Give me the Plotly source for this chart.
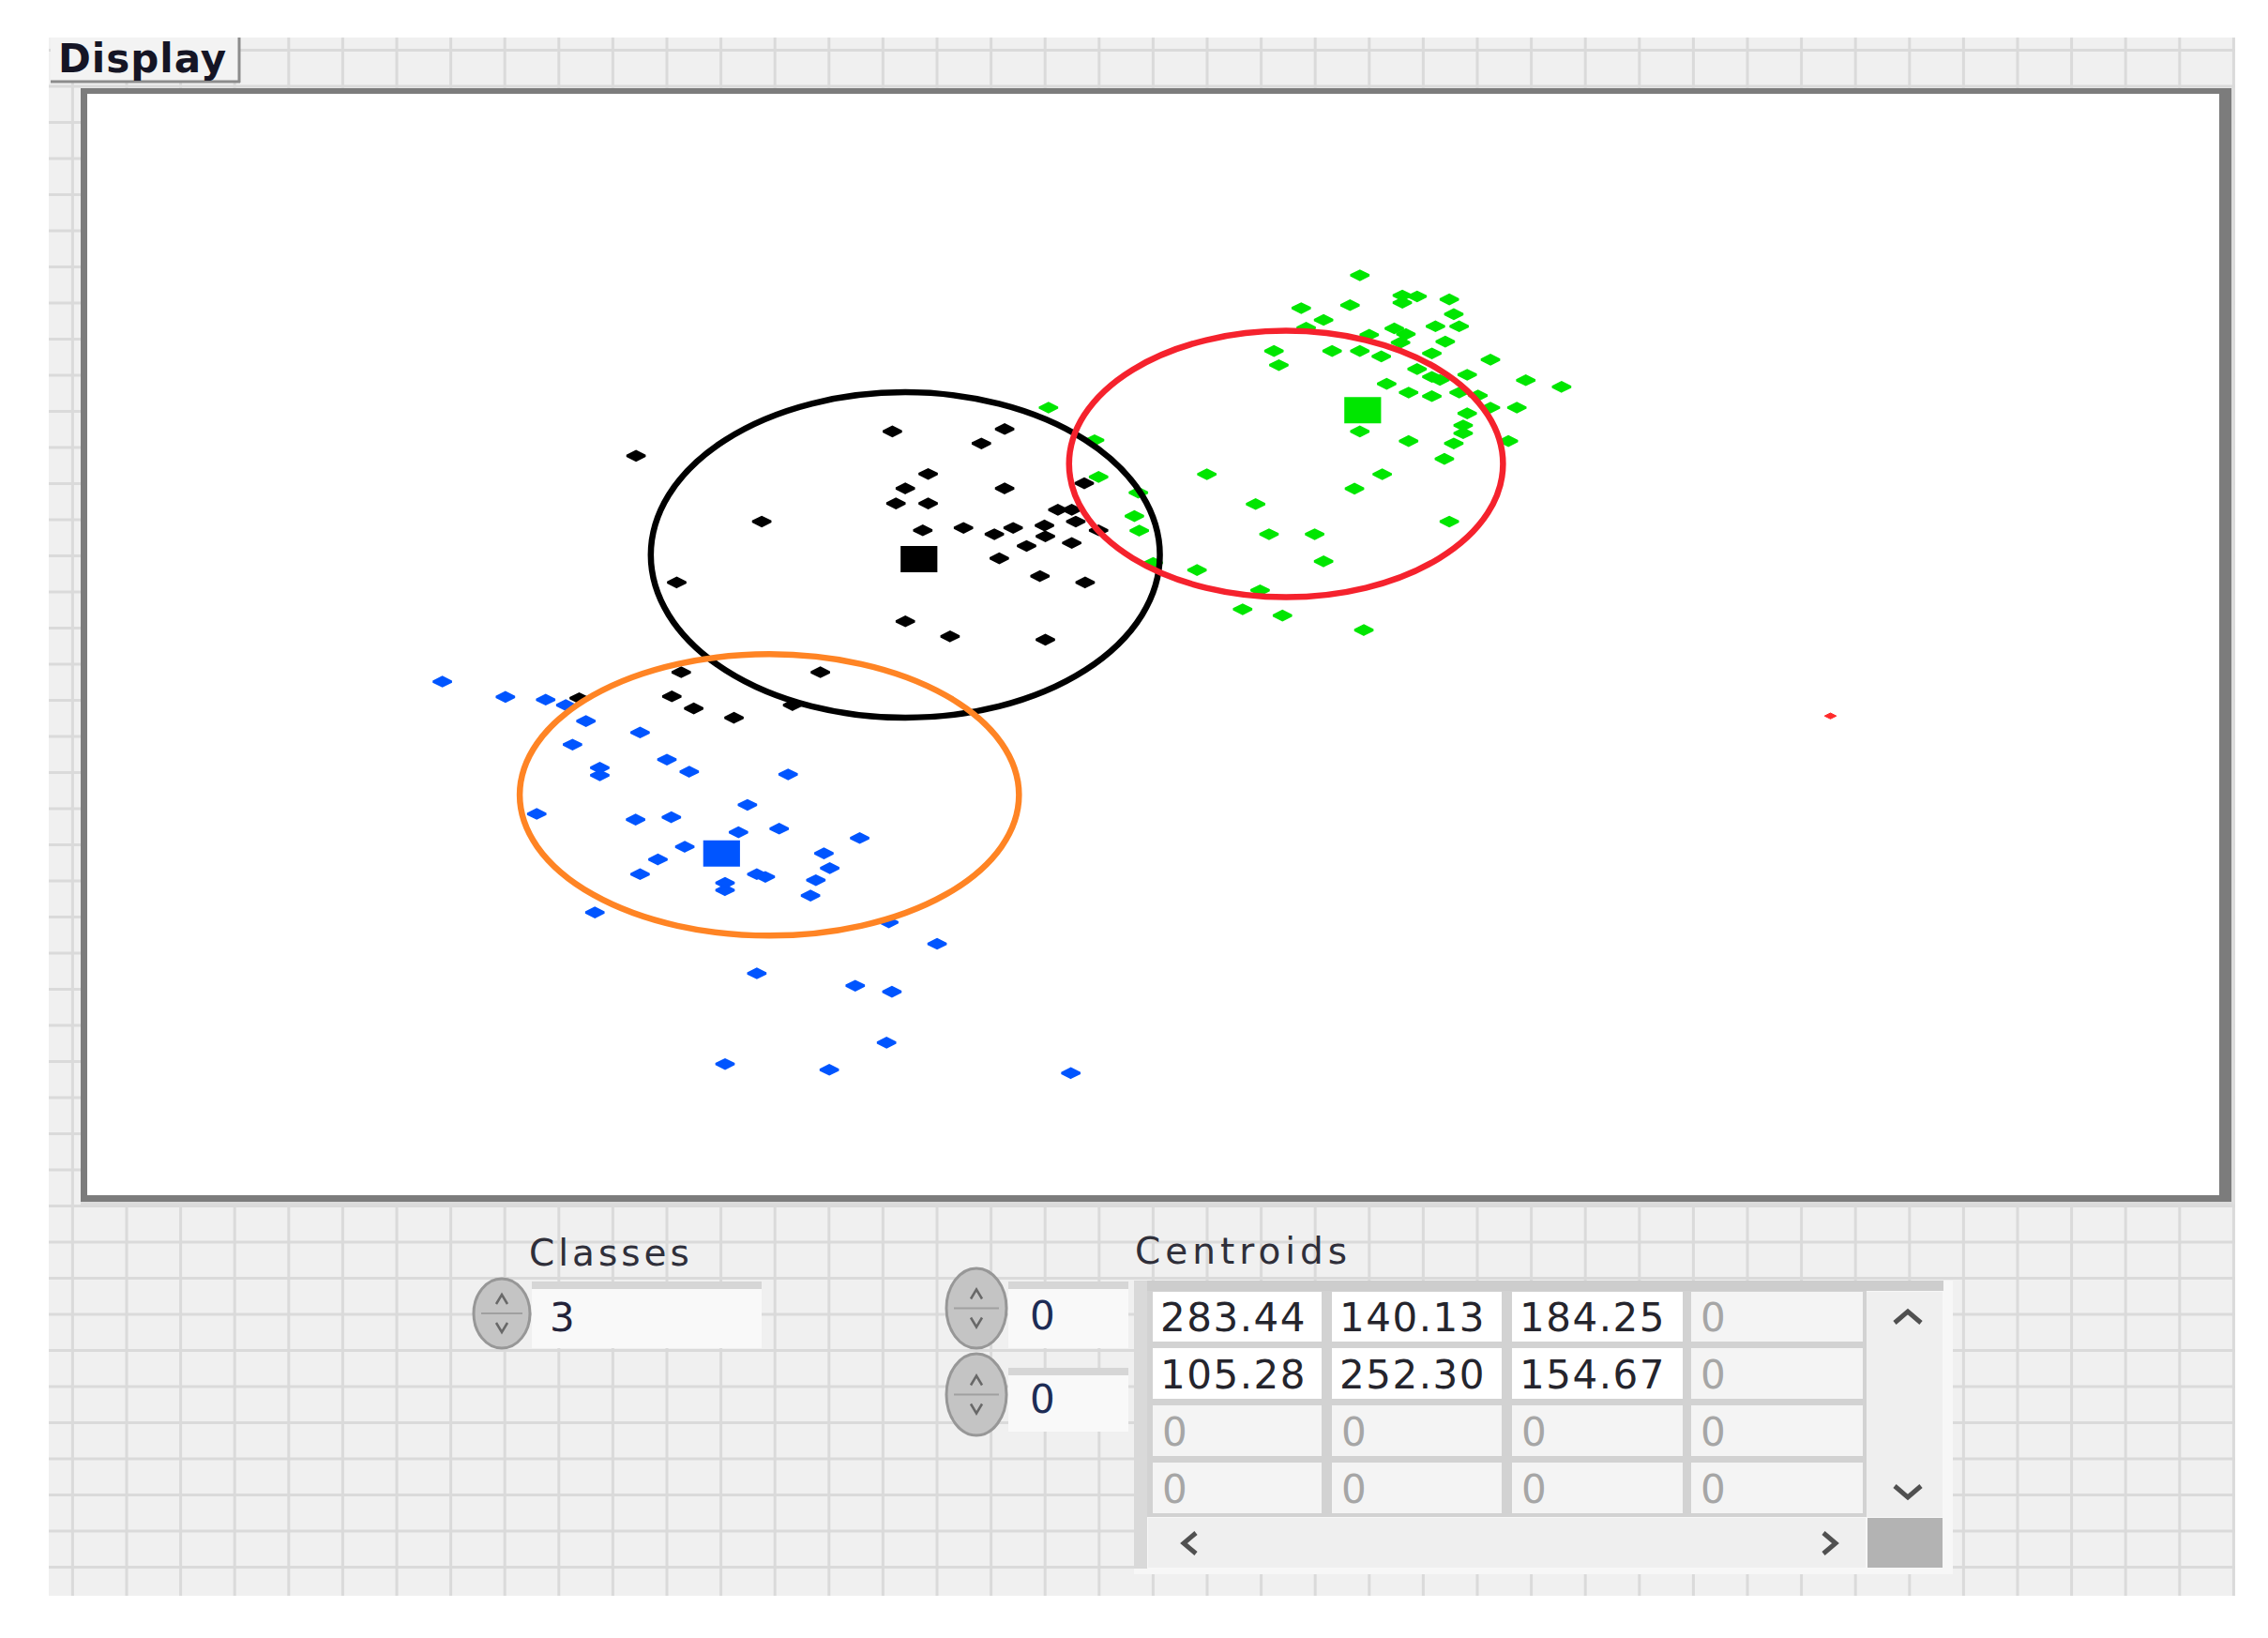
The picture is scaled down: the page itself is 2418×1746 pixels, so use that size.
import plotly.graph_objects as go

# cluster members, in camera pixel units (y grows downward)
black_x = [121.0, 178.3, 203.4, 198.2, 186.3, 181.2, 203.4, 179.1, 186.3, 149.1,
           185.1, 194.2, 201.1, 205.3, 212.3, 212.5, 208.3, 215.3, 218.4, 219.3,
           218.4, 221.2, 224.4, 202.2, 211.3, 221.4, 130.1, 181.2, 191.2, 212.5,
           131.1, 162.2, 129.0, 133.9, 142.9, 156.0, 108.3]
black_y = [120.4, 112.3, 111.5, 116.3, 126.4, 131.2, 131.2, 136.2, 136.2, 142.2,
           145.1, 144.3, 146.4, 144.3, 143.5, 147.1, 150.3, 138.3, 138.3, 142.2,
           149.3, 129.5, 145.1, 154.4, 160.3, 162.4, 162.4, 175.3, 180.3, 181.4,
           192.2, 192.2, 200.2, 204.2, 207.3, 203.1, 200.8]

green_x = [282.8, 292.3, 295.6, 292.3, 302.8, 280.6, 269.7, 274.7, 303.8, 299.7,
           305.0, 270.8, 290.5, 293.1, 284.9, 291.9, 301.9, 263.6, 276.6, 282.8,
           287.6, 298.9, 264.7, 312.0, 295.6, 298.9, 300.7, 306.8, 319.9, 327.9,
           288.8, 293.7, 298.9, 305.0, 309.2, 312.0, 317.9, 306.8, 305.9, 305.9,
           282.8, 293.7, 303.8, 316.0, 301.7, 213.2, 223.5, 224.4, 248.6, 287.8,
           281.6, 233.3, 232.4, 233.5, 259.5, 262.5, 272.7, 302.8, 274.7, 236.6,
           246.4, 260.5, 256.6, 265.5, 283.7]
green_y = [60.5, 67.2, 67.5, 69.6, 68.5, 70.4, 71.4, 75.3, 73.4, 77.4,
           77.4, 77.9, 78.1, 80.0, 80.2, 82.8, 82.5, 85.6, 85.6, 85.6,
           87.4, 86.4, 90.3, 88.5, 91.6, 94.2, 95.2, 93.5, 95.3, 97.5,
           96.5, 99.4, 100.6, 99.4, 100.4, 104.4, 104.4, 106.3, 110.3, 112.9,
           112.3, 115.5, 116.3, 115.5, 121.4, 104.4, 115.2, 127.4, 126.5, 126.5,
           131.3, 132.6, 140.4, 145.2, 136.4, 146.4, 146.4, 142.2, 155.4, 155.9,
           158.3, 165.0, 171.3, 173.4, 178.2]

blue_x = [77.7, 91.8, 100.8, 105.3, 109.8, 121.9, 106.8, 127.9, 112.9, 112.9,
          132.9, 155.0, 145.9, 98.8, 120.9, 128.9, 143.9, 153.0, 171.0, 131.9,
          125.9, 163.0, 164.3, 121.9, 148.0, 149.9, 140.9, 140.9, 161.2, 160.0,
          111.8, 177.5, 188.3, 148.0, 170.0, 178.2, 177.0, 140.9, 164.2, 218.2]
blue_y = [195.3, 200.4, 201.3, 203.1, 208.4, 212.2, 216.2, 221.2, 223.9, 226.4,
          225.2, 226.1, 236.2, 239.2, 241.1, 240.3, 245.3, 244.1, 247.2, 250.1,
          254.3, 252.3, 257.2, 259.2, 259.2, 260.1, 262.1, 264.5, 261.2, 266.3,
          271.9, 275.2, 282.3, 292.1, 296.2, 298.2, 315.1, 322.2, 324.1, 325.2]

red_x = [388.0]
red_y = [206.7]

centroid_x = [283.44, 140.13, 184.25]
centroid_y = [105.28, 252.30, 154.67]
centroid_colors = ["#00e600", "#0055ff", "#000000"]

circle_cx = [181.2, 266.3, 150.8]
circle_cy = [153.3, 123.1, 232.9]
circle_rx = [56.9, 48.5, 55.8]
circle_ry = [54.0, 44.2, 46.7]
circle_colors = ["#000000", "#f5222d", "#ff8424"]

classes = 3
array_index = [0, 0]

W, H = 2418, 1746
FONT = "DejaVu Sans"
shapes = []
annotations = []


def fx(x):
    return x / W


def fy(y):
    return 1 - y / H


def box(x0, y0, x1, y1, fill, line=None, width=0):
    shapes.append(dict(type="rect", xref="paper", yref="paper", layer="below",
                       x0=fx(x0), x1=fx(x1), y0=fy(y1), y1=fy(y0),
                       fillcolor=fill, line=dict(color=line or fill, width=width)))


def seg(x0, y0, x1, y1, color, width):
    shapes.append(dict(type="line", xref="paper", yref="paper", layer="below",
                       x0=fx(x0), x1=fx(x1), y0=fy(y0), y1=fy(y1),
                       line=dict(color=color, width=width)))


def chevron(pts, color, width):
    d = "M " + " L ".join(f"{fx(x)},{fy(y)}" for x, y in pts)
    shapes.append(dict(type="path", xref="paper", yref="paper", path=d,
                       line=dict(color=color, width=width)))


def label(x, y, text, size, color="#2f2f3a", bold=False, spacing=0):
    t = f"<b>{text}</b>" if bold else text
    if spacing:
        t = f'<span style="letter-spacing:{spacing}px">{t}</span>'
    annotations.append(dict(xref="paper", yref="paper", x=fx(x), y=fy(y), text=t,
                            showarrow=False, xanchor="left", yanchor="middle",
                            font=dict(family=FONT, size=size, color=color)))


def spinner(x0, y0, x1, y1):
    shapes.append(dict(type="circle", xref="paper", yref="paper", layer="below",
                       x0=fx(x0), x1=fx(x1), y0=fy(y1), y1=fy(y0),
                       fillcolor="#c4c4c4", line=dict(color="#979797", width=3)))
    cx, cy = (x0 + x1) / 2, (y0 + y1) / 2
    seg(x0 + 8, cy, x1 - 8, cy, "#a0a0a0", 2)
    chevron([(cx - 6, cy - 10), (cx, cy - 20), (cx + 6, cy - 10)], "#686868", 2.5)
    chevron([(cx - 6, cy + 10), (cx, cy + 20), (cx + 6, cy + 10)], "#686868", 2.5)


# panel background with its grid
box(52, 40, 2383, 1701, "#f0f0f0")
gx = 2381.4
while gx > 52:
    seg(gx, 40, gx, 1701, "#dadada", 3)
    gx -= 57.6
gy = 1670.4
while gy > 40:
    seg(52, gy, 2383, gy, "#dadada", 3)
    gy -= 38.5

# graph label and frame
box(54, 40, 255, 88, "#f3f3f3")
seg(255, 40, 255, 88, "#8c8c8c", 3)
seg(54, 87, 256, 87, "#8c8c8c", 3)
label(60, 63, "Display", 42, color="#151525", bold=True, spacing=1)

box(86, 94, 2382, 1284, "#dcdcdc")
box(86, 94, 2379, 1281, "#7c7c7c")
box(93, 100, 2366, 1274, "#ffffff")

# Classes control
label(562, 1335, "Classes", 39, spacing=4)
box(567, 1366, 812, 1437, "#f9f9f9")
box(567, 1366, 812, 1374, "#d6d6d6")
spinner(505, 1363, 565, 1437)
label(584, 1404, str(classes), 42, color="#23233a")

# Centroids array
label(1208, 1333, "Centroids", 39, spacing=5)
spinner(1009, 1352, 1073, 1437)
spinner(1009, 1443, 1073, 1530)
box(1075, 1366, 1203, 1437, "#f9f9f9")
box(1075, 1366, 1203, 1374, "#d6d6d6")
box(1075, 1458, 1203, 1526, "#f9f9f9")
box(1075, 1458, 1203, 1466, "#d6d6d6")
label(1096, 1402, str(array_index[0]), 42, color="#1d2c55")
label(1096, 1491, str(array_index[1]), 42, color="#1d2c55")

box(1209, 1365, 2082, 1678, "#f7f7f7")
box(1209, 1365, 2072, 1376, "#cdcdcd")
box(1209, 1365, 1223, 1672, "#d9d9d9")
box(1223, 1376, 1990, 1617, "#d2d2d2")

table = [centroid_x + [0], centroid_y + [0], [0, 0, 0, 0], [0, 0, 0, 0]]
col_x = [(1229, 1409), (1420, 1601), (1612, 1794), (1803, 1986)]
row_y = [(1377, 1430), (1437, 1491), (1498, 1552), (1559, 1613)]
for r, (ry0, ry1) in enumerate(row_y):
    for c, (cx0, cx1) in enumerate(col_x):
        v = table[r][c]
        if v:
            box(cx0, ry0, cx1, ry1, "#ffffff")
            label(cx0 + 6, (ry0 + ry1) / 2 + 1, f"{v:.2f}", 42, color="#25252d", spacing=1.5)
        else:
            box(cx0, ry0, cx1, ry1, "#f4f4f4")
            label(cx0 + 8, (ry0 + ry1) / 2 + 1, "0", 42, color="#a6a6a6")

box(1990, 1377, 2071, 1617, "#efefef")
chevron([(2020, 1410), (2034, 1398), (2048, 1410)], "#505050", 5)
chevron([(2020, 1584), (2034, 1596), (2048, 1584)], "#505050", 5)
box(1224, 1618, 1989, 1671, "#efefef")
chevron([(1275, 1634), (1262, 1645), (1275, 1656)], "#505050", 5)
chevron([(1944, 1634), (1957, 1645), (1944, 1656)], "#505050", 5)
box(1991, 1618, 2071, 1671, "#b3b3b3")

# cluster circles
for cx, cy, rx, ry, col in zip(circle_cx, circle_cy, circle_rx, circle_ry, circle_colors):
    shapes.append(dict(type="circle", xref="x", yref="y", layer="above",
                       x0=cx - rx, x1=cx + rx, y0=cy - ry, y1=cy + ry,
                       line=dict(color=col, width=6.5)))

fig = go.Figure()
for xs, ys, col in [(blue_x, blue_y, "#0055ff"), (black_x, black_y, "#000000"),
                    (green_x, green_y, "#00e600")]:
    fig.add_trace(go.Scatter(x=xs, y=ys, mode="markers",
                             marker=dict(symbol="diamond-wide", size=14, color=col,
                                         line=dict(width=2.5, color=col))))
fig.add_trace(go.Scatter(x=red_x, y=red_y, mode="markers",
                         marker=dict(symbol="diamond-wide", size=9, color="#ff2a2a",
                                     line=dict(width=1, color="#ff2a2a"))))
fig.add_trace(go.Scatter(x=centroid_x, y=centroid_y, mode="markers",
                         marker=dict(symbol="line-ew", size=28,
                                     line=dict(width=28, color=centroid_colors))))

fig.update_layout(
    width=W, height=H,
    margin=dict(l=0, r=0, t=0, b=0),
    paper_bgcolor="#ffffff",
    plot_bgcolor="rgba(0,0,0,0)",
    showlegend=False,
    xaxis=dict(domain=[fx(94), fx(2365)], range=[-1.47, 474.7], visible=False),
    yaxis=dict(domain=[fy(1273), fy(101)], range=[365.4, 0.59], visible=False),
    shapes=shapes,
    annotations=annotations,
)

fig.write_html("out.html", config={"displayModeBar": False, "staticPlot": True},
               post_script="document.body.style.margin='0';document.body.style.overflow='hidden';")
